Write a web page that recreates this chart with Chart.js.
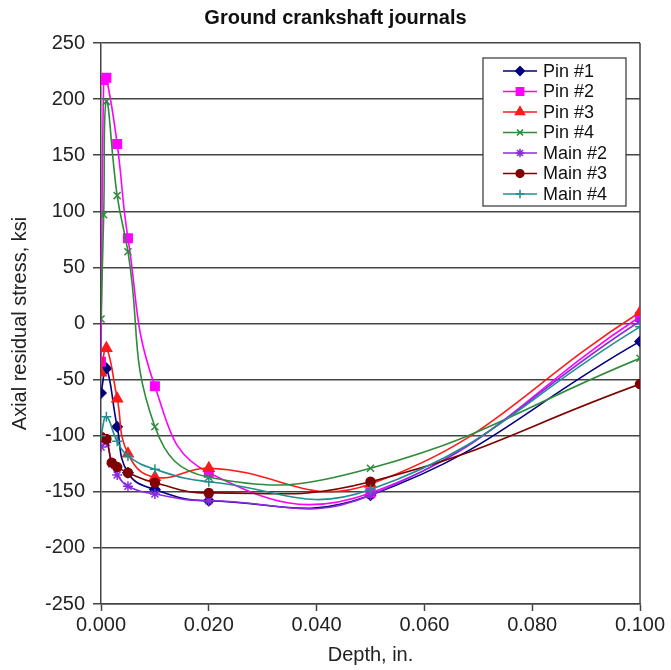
<!DOCTYPE html>
<html lang="en">
  <head>
    <meta charset="UTF-8" />
    <title>Ground crankshaft journals</title>
    <script src="https://cdn.jsdelivr.net/npm/chart.js@4"></script>
    <style>
      body { margin: 0; background: #fff; }
    </style>
  </head>
  <body>
    <canvas id="myChart" width="671" height="670"></canvas>
    <script>
      // values (depth in inches, stress in ksi)
      const seriesNames = ["Pin #1", "Pin #2", "Pin #3", "Pin #4", "Main #2", "Main #3", "Main #4"];

      const pin1Depth = [0, 0.001, 0.003, 0.005, 0.01, 0.02, 0.05, 0.1];
      const pin1Stress = [-62, -40, -92, -133, -148, -158, -153, -16];

      const pin2Depth = [0, 0.0005, 0.001, 0.003, 0.005, 0.01, 0.02, 0.05, 0.1];
      const pin2Stress = [-34, 217, 219, 160, 76, -56, -133, -151, 6];

      const pin3Depth = [0, 0.001, 0.003, 0.005, 0.01, 0.02, 0.05, 0.1];
      const pin3Stress = [-44, -22, -67, -116, -137, -129, -143, 10];

      const pin4Depth = [0, 0.0005, 0.001, 0.003, 0.005, 0.01, 0.02, 0.05, 0.1];
      const pin4Stress = [4, 97, 198, 114, 64, -92, -137, -129, -31];

      const main2Depth = [0, 0.001, 0.002, 0.003, 0.005, 0.01, 0.02, 0.05, 0.1];
      const main2Stress = [-110, -106, -125, -135, -145, -152, -158, -153, 2];

      const main3Depth = [0, 0.001, 0.002, 0.003, 0.005, 0.01, 0.02, 0.05, 0.1];
      const main3Stress = [-101, -103, -124, -128, -133, -142, -151, -141, -54];

      const main4Depth = [0, 0.001, 0.003, 0.005, 0.01, 0.02, 0.05, 0.1];
      const main4Stress = [-100, -83, -105, -118, -130, -141, -148, -3];

      const xTicks = [0, 0.02, 0.04, 0.06, 0.08, 0.1];
      const yTicks = [-250, -200, -150, -100, -50, 0, 50, 100, 150, 200, 250];

      const depths = [pin1Depth, pin2Depth, pin3Depth, pin4Depth, main2Depth, main3Depth, main4Depth];
      const stresses = [pin1Stress, pin2Stress, pin3Stress, pin4Stress, main2Stress, main3Stress, main4Stress];

      const colors = ["#000080", "#ff00ff", "#ff1a1a", "#2e8b3a", "#8a2be2", "#800000", "#1f8f8f"];
      const markers = ["rectRot", "rect", "triangle", "crossRot", "star", "circle", "cross"];
      const markerSize = [5, 6, 6, 5, 5, 4.5, 5];

      const font = "'Liberation Sans', Arial, sans-serif";

      let datasets = seriesNames.map((name, i) => ({
        label: name,
        data: depths[i].map((d, j) => ({ x: d, y: stresses[i][j] })),
        borderColor: colors[i],
        backgroundColor: colors[i],
        pointBackgroundColor: colors[i],
        pointBorderColor: colors[i],
        pointStyle: markers[i],
        pointRadius: markerSize[i],
        pointBorderWidth: 1.5,
        borderWidth: 1.6,
        showLine: true,
        tension: 0.45,
        order: seriesNames.length - i,
      }));

      // frame on the right plus the boxed legend inside the plot
      let framePlugin = {
        id: "frame",
        beforeDatasetsDraw(chart) {
          const { ctx, chartArea } = chart;
          ctx.save();
          ctx.strokeStyle = "#444";
          ctx.lineWidth = 1.5;
          ctx.beginPath();
          ctx.moveTo(chartArea.right, chartArea.top);
          ctx.lineTo(chartArea.right, chartArea.bottom);
          ctx.stroke();
          ctx.restore();
        },
        afterDatasetsDraw(chart) {
          const { ctx, chartArea } = chart;
          const left = chartArea.right - 157;
          const top = chartArea.top + 15;
          const rowH = 20.5;
          ctx.save();
          ctx.fillStyle = "#fff";
          ctx.fillRect(left, top, 143, 148);
          ctx.strokeStyle = "#333";
          ctx.lineWidth = 1.2;
          ctx.strokeRect(left, top, 143, 148);
          ctx.font = "18px " + font;
          ctx.textBaseline = "middle";
          chart.data.datasets.forEach((ds, i) => {
            const y = top + 13 + i * rowH;
            ctx.strokeStyle = ds.borderColor;
            ctx.lineWidth = 1.6;
            ctx.beginPath();
            ctx.moveTo(left + 20, y);
            ctx.lineTo(left + 54, y);
            ctx.stroke();
            ctx.fillStyle = ds.pointBackgroundColor;
            Chart.helpers.drawPoint(ctx, {
              pointStyle: ds.pointStyle,
              radius: ds.pointRadius * 0.85,
              rotation: 0,
              borderWidth: 1.5,
            }, left + 37, y);
            ctx.fillStyle = "#111";
            ctx.fillText(ds.label, left + 60, y + 1);
          });
          ctx.restore();
        },
      };

      let config = {
        type: "scatter",
        data: { datasets: datasets },
        options: {
          responsive: false,
          animation: false,
          layout: { padding: 0 },
          plugins: {
            legend: { display: false },
            tooltip: { enabled: false },
            title: {
              display: true,
              text: "Ground crankshaft journals",
              color: "#111",
              font: { family: font, size: 20, weight: "bold" },
              padding: { top: 6, bottom: 13 },
            },
          },
          scales: {
            x: {
              type: "linear",
              min: 0,
              max: 0.1,
              afterBuildTicks: (scale) => {
                scale.ticks = xTicks.map((v) => ({ value: v }));
              },
              afterFit: (scale) => {
                scale.height = 66;
              },
              ticks: {
                color: "#222",
                font: { family: font, size: 20 },
                padding: 2,
                maxRotation: 0,
                callback: (v) => v.toFixed(3),
              },
              grid: {
                drawOnChartArea: false,
                drawTicks: true,
                tickLength: 7,
                tickWidth: 1.5,
                tickColor: "#444",
              },
              border: { color: "#444", width: 1.5 },
              title: {
                display: true,
                text: "Depth, in.",
                color: "#222",
                font: { family: font, size: 20 },
                padding: { top: 0, bottom: 3 },
              },
            },
            y: {
              min: -250,
              max: 250,
              afterBuildTicks: (scale) => {
                scale.ticks = yTicks.map((v) => ({ value: v }));
              },
              afterFit: (scale) => {
                scale.width = 101;
              },
              ticks: {
                color: "#222",
                font: { family: font, size: 20 },
                padding: 8,
              },
              grid: {
                color: "#444",
                lineWidth: 1.5,
                tickLength: 8,
                tickColor: "#444",
              },
              border: { color: "#444", width: 1.5 },
              title: {
                display: true,
                text: "Axial residual stress, ksi",
                color: "#222",
                font: { family: font, size: 20 },
                padding: { top: 8, bottom: 0 },
              },
            },
            // empty right-hand axis, only keeps room beside the plot
            yRight: {
              position: "right",
              min: -250,
              max: 250,
              grid: { display: false },
              ticks: { display: false },
              border: { display: false },
              afterFit: (scale) => {
                scale.width = 31;
              },
            },
          },
        },
        plugins: [framePlugin],
      };

      let myChart = new Chart(document.getElementById("myChart"), config);
    </script>
  </body>
</html>
